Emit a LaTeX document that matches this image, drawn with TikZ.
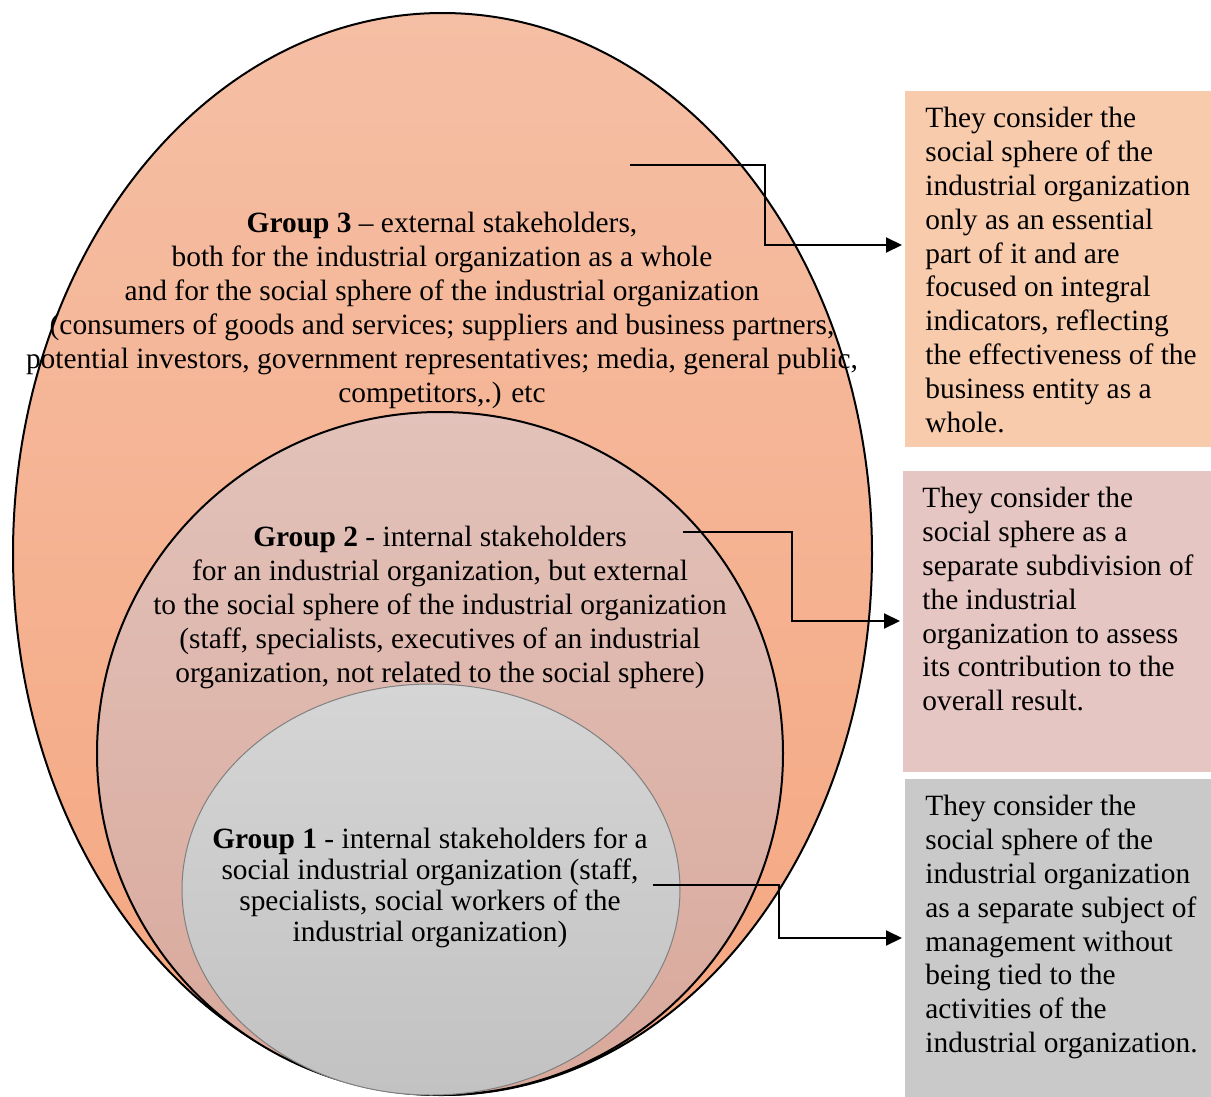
\documentclass[tikz,border=0pt]{standalone}
\usepackage{fontspec}
\setmainfont{Liberation Serif}
\usetikzlibrary{arrows.meta}

\definecolor{outerTop}{HTML}{F5BFA5}
\definecolor{outerBot}{HTML}{F5A67F}
\definecolor{midTop}{HTML}{E2C2BA}
\definecolor{midBot}{HTML}{D9A89B}
\definecolor{innTop}{HTML}{D5D5D5}
\definecolor{innBot}{HTML}{C2C2C2}
\definecolor{boxPeach}{HTML}{F8CBAD}
\definecolor{boxRose}{HTML}{E6C6C2}
\definecolor{boxGrey}{HTML}{C9C9C9}

\tikzset{
  grouptext/.style={align=center, inner sep=0pt, font=\fontsize{14.7}{17}\selectfont},
  sidebox/.style={rectangle, draw=none, inner sep=0pt, anchor=north west},
  sidetext/.style={align=left, inner sep=0pt, anchor=north west, font=\fontsize{14.7}{16.9}\selectfont},
  arr/.style={line width=1pt, -{Triangle[length=8pt,width=7.5pt]}, shorten >=1.5pt},
}

\begin{document}
\begin{tikzpicture}[x=0.5pt, y=-0.5pt]
    \useasboundingbox (0,0) rectangle (1211,1097);

    % nested groups
    \shade[top color=outerTop, bottom color=outerBot] (442.5,554) ellipse [x radius=429.5, y radius=541];
    \draw[line width=1pt] (442.5,554) ellipse [x radius=429.5, y radius=541];
    \shade[top color=midTop, bottom color=midBot] (440,753.5) ellipse [x radius=343, y radius=341.5];
    \draw[line width=1pt] (440,753.5) ellipse [x radius=343, y radius=341.5];
    \shade[top color=innTop, bottom color=innBot] (431,889.5) ellipse [x radius=249, y radius=205.5];
    \draw[line width=0.5pt, gray] (431,889.5) ellipse [x radius=249, y radius=205.5];

    \node[grouptext] (g3) at (442,310) {\textbf{Group 3} – external stakeholders,\\
      both for the industrial organization as a whole\\
      and for the social sphere of the industrial organization\\
      (consumers of goods and services; suppliers and business partners,\\
      potential investors, government representatives; media, general public,\\
      competitors,.) etc};
    \node[grouptext] (g2) at (440,607) {\textbf{Group 2} - internal stakeholders\\
      for an industrial organization, but external\\
      to the social sphere of the industrial organization\\
      (staff, specialists, executives of an industrial\\
      organization, not related to the social sphere)};
    \node[grouptext, font=\fontsize{14.7}{15.5}\selectfont] (g1) at (430,888) {\textbf{Group 1} - internal stakeholders for a\\
      social industrial organization (staff,\\
      specialists, social workers of the\\
      industrial organization)};

    % side boxes
    \node[sidebox, fill=boxPeach, minimum width=153pt, minimum height=178pt] (box1) at (905,91) {};
    \node[sidebox, fill=boxRose, minimum width=154pt, minimum height=150.5pt] (box2) at (903,471) {};
    \node[sidebox, fill=boxGrey, minimum width=153pt, minimum height=159pt] (box3) at (905,779) {};

    \node[sidetext] (t1) at (925,107) {They consider the\\ social sphere of the\\ industrial organization\\ only as an essential\\ part of it and are\\ focused on integral\\ indicators, reflecting\\ the effectiveness of the\\ business entity as a\\ whole.};
    \node[sidetext] (t2) at (922,487) {They consider the\\ social sphere as a\\ separate subdivision of\\ the industrial\\ organization to assess\\ its contribution to the\\ overall result.};
    \node[sidetext] (t3) at (925,795) {They consider the\\ social sphere of the\\ industrial organization\\ as a separate subject of\\ management without\\ being tied to the\\ activities of the\\ industrial organization.};

    % connectors
    \coordinate (s3) at (630,165);
    \coordinate (k3) at (765,245);
    \coordinate (s2) at (683,532);
    \coordinate (k2) at (792,621);
    \coordinate (s1) at (653,885);
    \coordinate (k1) at (779,938);
    \draw[arr] (s3) -| (k3) -- (k3 -| box1.west);
    \draw[arr] (s2) -| (k2) -- (k2 -| box2.west);
    \draw[arr] (s1) -| (k1) -- (k1 -| box3.west);
\end{tikzpicture}
\end{document}
